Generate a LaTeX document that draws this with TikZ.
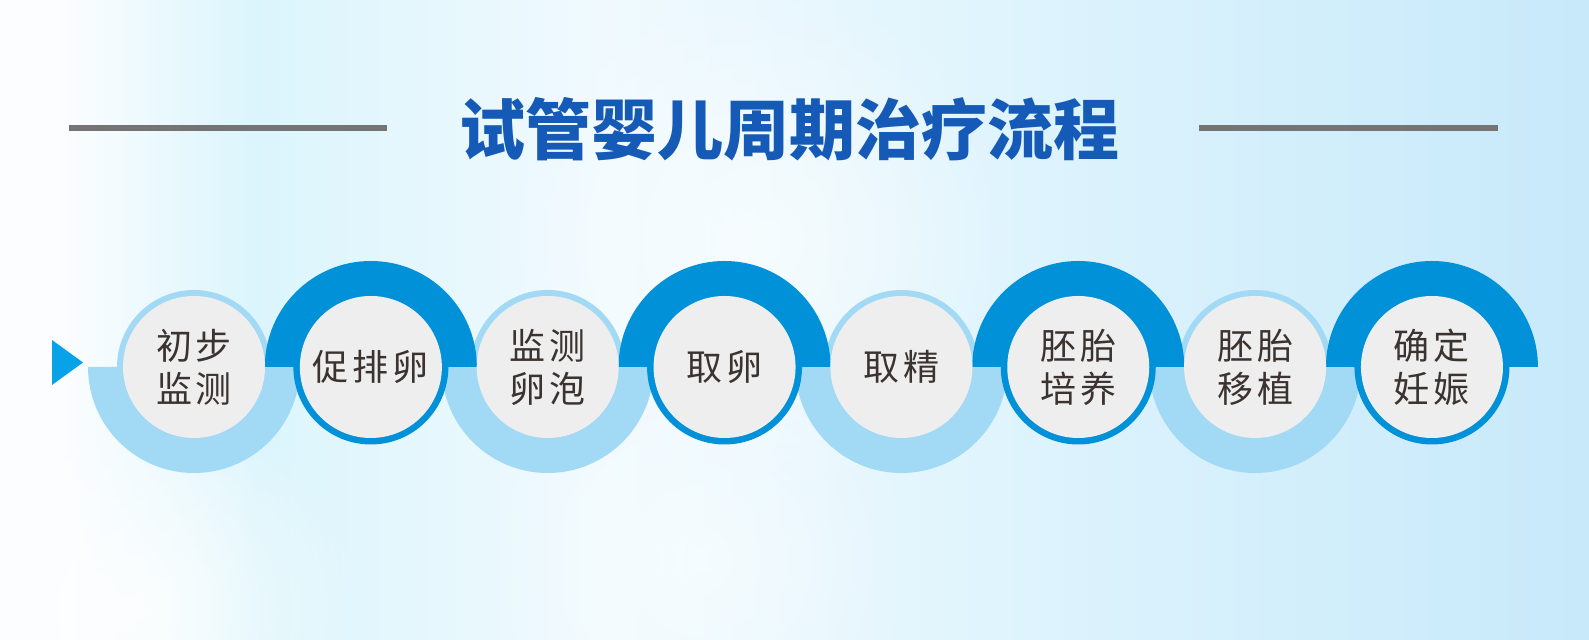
\documentclass[tikz,border=0pt]{standalone}
\usepackage{fontspec}
\usetikzlibrary{fadings}
\newfontfamily\cjk{Noto Sans CJK SC}
\newfontfamily\cjkblack{Noto Sans CJK SC Black}
\definecolor{lightb}{HTML}{A2D9F5}
\definecolor{darkb}{HTML}{0091D9}
\definecolor{grayf}{HTML}{EEEEEE}
\definecolor{txtc}{HTML}{3A3330}
\definecolor{titleb}{HTML}{145AB6}
\definecolor{lineg}{HTML}{747474}
\definecolor{trib}{HTML}{08A2E8}
\definecolor{bga}{HTML}{FBFDFF}
\definecolor{bgb}{HTML}{DBF5FC}
\definecolor{bgc}{HTML}{F0FAFE}
\definecolor{bgd}{HTML}{DFF4FD}
\definecolor{bge}{HTML}{C7E9FA}
\pgfdeclarehorizontalshading{bgshade}{100bp}{color(0bp)=(bga); color(25bp)=(bga); color(27bp)=(bga); color(33bp)=(bgb); color(44bp)=(bgc); color(56.5bp)=(bgd); color(75bp)=(bge); color(100bp)=(bge)}
\tikzfading[name=softglow, inner color=transparent!0, outer color=transparent!100]
\tikzset{
  stepnode/.style={circle, fill=grayf, minimum size=71pt, inner sep=0pt, align=center,
    text=txtc, font=\cjk\fontsize{18pt}{21.5pt}\selectfont},
  rule/.style={draw=lineg, line width=3pt},
  titletext/.style={text=titleb, font=\cjkblack\fontsize{33pt}{36pt}\selectfont},
  glow/.style={fill=white, path fading=softglow}
}
\begin{document}
\begin{tikzpicture}[x=0.5pt,y=0.5pt]
\useasboundingbox (0,0) rectangle (1589,640);
\shade[shading=bgshade] (0,0) rectangle (1589,640);
\fill[glow, opacity=0.8] (140,30) circle[radius=220];
\fill[glow, opacity=0.6] (760,400) circle[radius=260];
\fill[glow, opacity=0.5] (700,80) circle[radius=220];
% title and rules
\node[titletext] (title) at (789,511) {试管婴儿周期治疗流程};
\coordinate (la) at (69,512); \coordinate (lb) at (387,512);
\coordinate (ra) at (1199,512); \coordinate (rb) at (1498,512);
\draw[rule] (la) -- (lb);
\draw[rule] (ra) -- (rb);
% start triangle
\fill[trib] (52,300) -- (83,277.5) -- (52,255) -- cycle;
% positions
\foreach \i in {0,...,7} { \coordinate (p\i) at ({194+176.85*\i},273); }
% light rings (bottom halves)
\foreach \i in {0,2,4,6} {
  \fill[lightb] (p\i) circle[radius=77];
  \fill[lightb] ([xshift=-53pt]p\i) arc[start angle=180,end angle=360,radius=106] -- cycle;
}
% dark rings (top halves)
\foreach \i in {1,3,5,7} {
  \fill[darkb] (p\i) circle[radius=77.5];
  \fill[darkb] ([xshift=53pt]p\i) arc[start angle=0,end angle=180,radius=106] -- cycle;
}
% step nodes
\node[stepnode] (s0) at (p0) {初\kern2pt步\\监\kern2pt测};
\node[stepnode] (s1) at (p1) {促\kern2pt排\kern2pt卵};
\node[stepnode] (s2) at (p2) {监\kern2pt测\\卵\kern2pt泡};
\node[stepnode] (s3) at (p3) {取\kern2pt卵};
\node[stepnode] (s4) at (p4) {取\kern2pt精};
\node[stepnode] (s5) at (p5) {胚\kern2pt胎\\培\kern2pt养};
\node[stepnode] (s6) at (p6) {胚\kern2pt胎\\移\kern2pt植};
\node[stepnode] (s7) at (p7) {确\kern2pt定\\妊\kern2pt娠};
\end{tikzpicture}
\end{document}
